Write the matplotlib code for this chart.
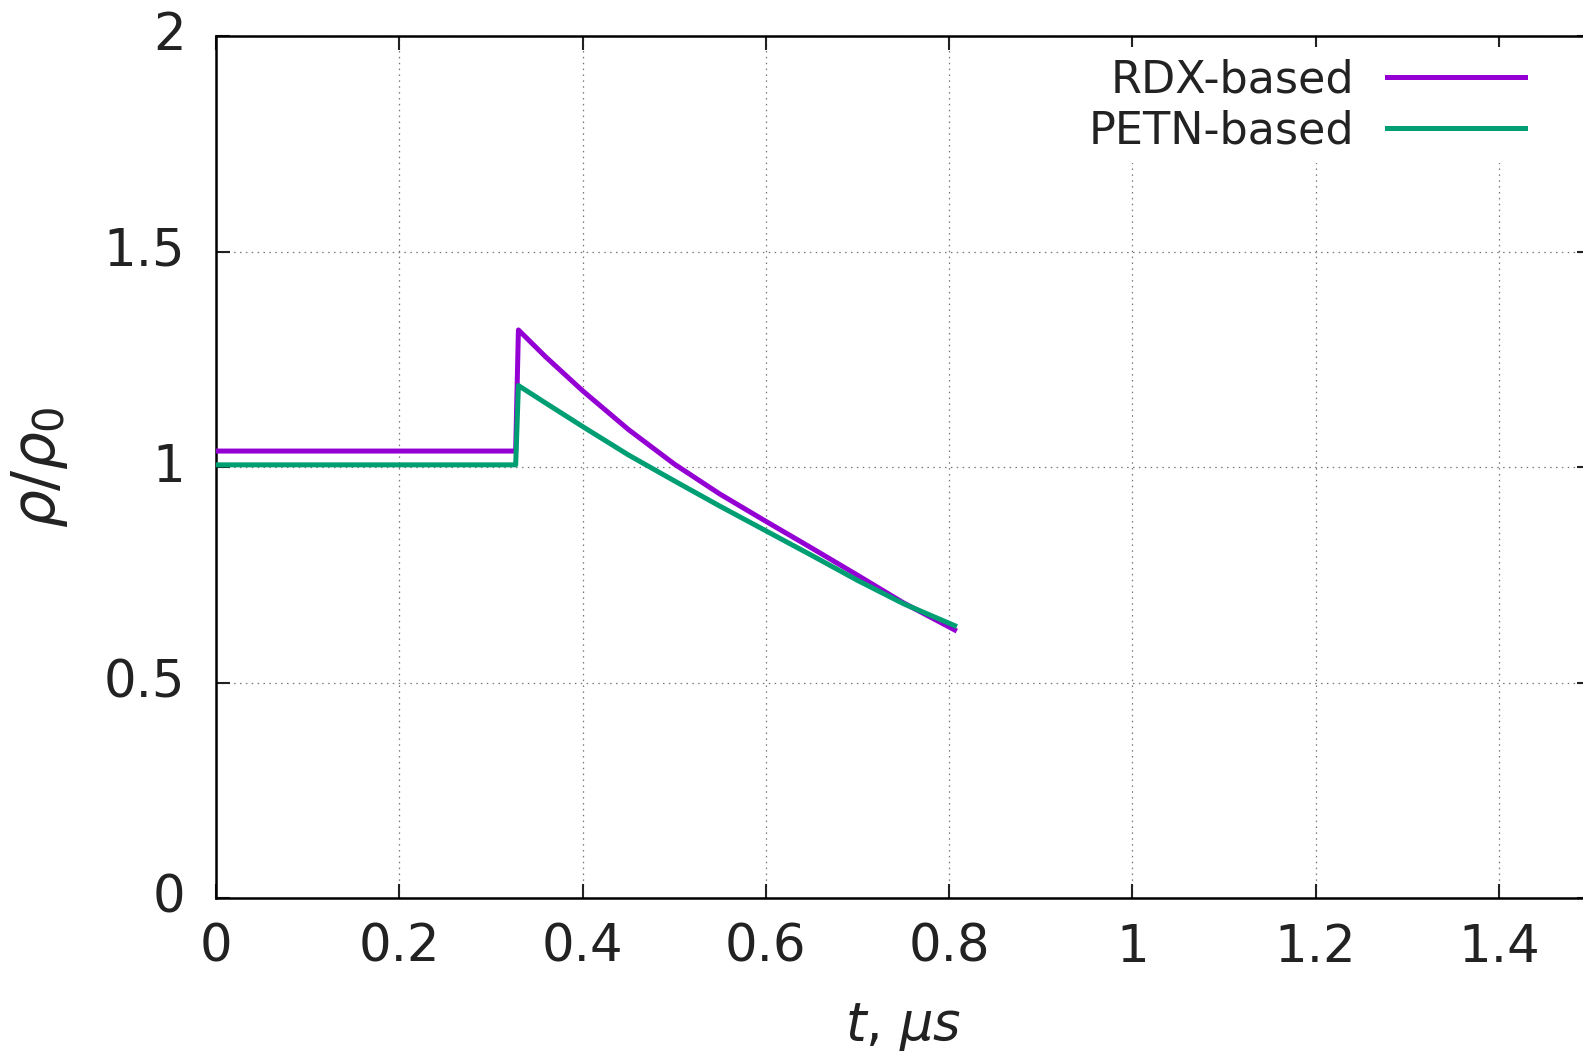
import matplotlib
matplotlib.use("Agg")
import matplotlib.pyplot as plt
import matplotlib.transforms as mtransforms

plt.rcParams['font.family'] = ['DejaVu Sans']
plt.rcParams['mathtext.fontset'] = 'dejavusans'

# Data
t_rdx = [0.0, 0.327, 0.330, 0.360, 0.400, 0.450, 0.500, 0.550, 0.600, 0.650, 0.700, 0.750, 0.806]
rho_rdx = [1.037, 1.037, 1.318, 1.255, 1.177, 1.087, 1.007, 0.937, 0.874, 0.812, 0.749, 0.685, 0.622]

t_petn = [0.0, 0.327, 0.330, 0.360, 0.400, 0.450, 0.500, 0.550, 0.600, 0.650, 0.700, 0.750, 0.806]
rho_petn = [1.005, 1.005, 1.189, 1.148, 1.094, 1.028, 0.968, 0.909, 0.852, 0.795, 0.737, 0.683, 0.632]

series_labels = ["RDX-based", "PETN-based"]
x_ticks = [0, 0.2, 0.4, 0.6, 0.8, 1.0, 1.2, 1.4]
x_ticklabels = ["0", "0.2", "0.4", "0.6", "0.8", "1", "1.2", "1.4"]
y_ticks = [0, 0.5, 1.0, 1.5, 2.0]
y_ticklabels = ["0", "0.5", "1", "1.5", "2"]

W, H = 1583, 1051
fig = plt.figure(figsize=(W / 100, H / 100), dpi=100)
left = 216 / W
bottom = (H - 898) / H
height = (898 - 36) / H
width = (1.5 * 916.4) / W
ax = fig.add_axes([left, bottom, width, height])

ax.plot(t_rdx, rho_rdx, color="#9400D3", lw=3.6, label=series_labels[0], zorder=3,
        solid_joinstyle="round")
ax.plot(t_petn, rho_petn, color="#009E73", lw=3.6, label=series_labels[1], zorder=3,
        solid_joinstyle="round")

ax.set_xlim(0, 1.5)
ax.set_ylim(0, 2)
ax.set_xticks(x_ticks)
ax.set_xticklabels(x_ticklabels)
ax.set_yticks(y_ticks)
ax.set_yticklabels(y_ticklabels)

ax.tick_params(direction="in", length=10, width=1.5, labelsize=37, colors="#222222",
               top=True, right=True)
ax.tick_params(axis="x", pad=18)
ax.tick_params(axis="y", pad=22)
offset = mtransforms.ScaledTranslation(0, 5 / 100, fig.dpi_scale_trans)
for lab in ax.get_yticklabels():
    lab.set_transform(lab.get_transform() + offset)
for s in ax.spines.values():
    s.set_linewidth(1.8)
    s.set_color("black")

ax.grid(True, color="#777777", lw=0.9, linestyle=(0, (1.2, 3.5)))
ax.set_axisbelow(True)

ax.set_xlabel(r"$t$, $\mu s$", fontsize=38, color="#222222", labelpad=20)
ax.set_ylabel(r"$\rho/\rho_0$", fontsize=43, color="#222222", labelpad=24)

leg = ax.legend(loc="upper right", bbox_to_anchor=((1528 - 216) / (1.5 * 916.4) + 0.014, 1.0),
                fontsize=32, frameon=True, markerfirst=False, handlelength=3.1,
                handletextpad=0.75, labelspacing=0.18, borderpad=0.25, borderaxespad=0.25)
leg.get_frame().set_edgecolor("none")
leg.get_frame().set_facecolor("white")
leg.get_frame().set_alpha(1.0)
for txt in leg.get_texts():
    txt.set_color("#222222")

fig.savefig("out.png", dpi=100, facecolor="white")
